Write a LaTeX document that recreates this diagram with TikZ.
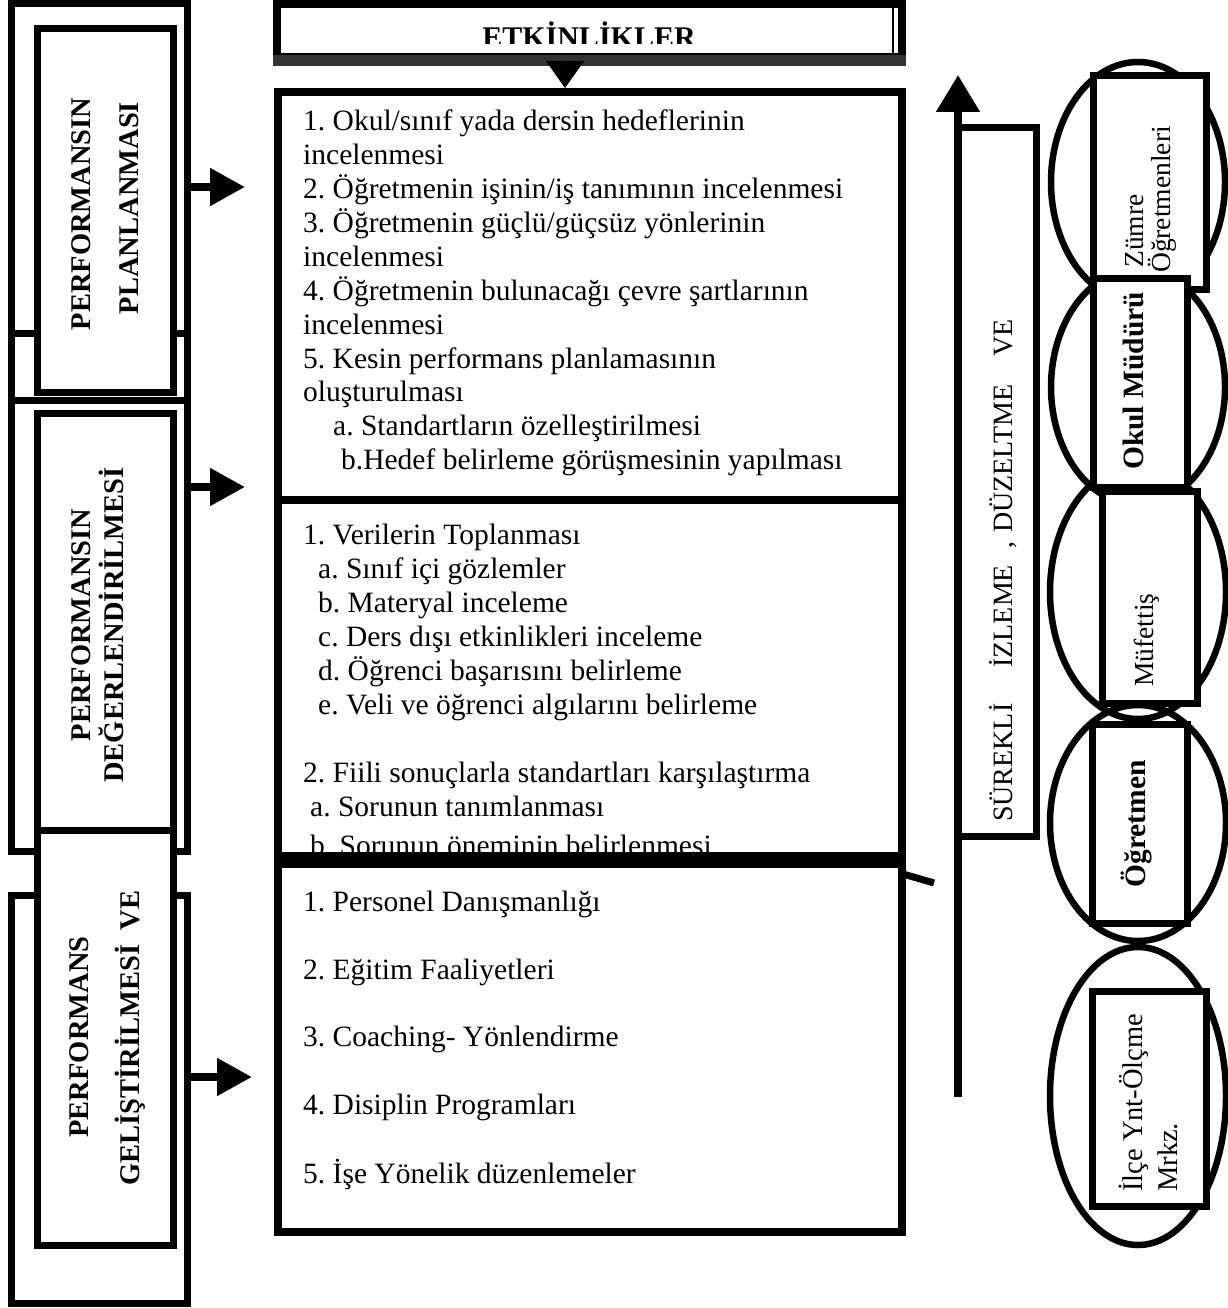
\documentclass[tikz,border=0pt]{standalone}
\usepackage{fontspec}
\setmainfont{Liberation Serif}
\frenchspacing
\usetikzlibrary{fit,shapes.geometric,arrows.meta}
\begin{document}
\begin{tikzpicture}[x=1pt,y=-1pt,
  frame/.style={draw, line width=7pt, fill=white, inner sep=0pt},
  oval/.style={draw, ellipse, line width=6.5pt, inner sep=0pt},
  sideLbl/.style={rotate=90, anchor=base, inner sep=0pt, font=\bfseries\fontsize{28.5}{30}\selectfont},
  item/.style={anchor=base west, inner sep=0pt, font=\fontsize{29.5}{34}\selectfont},
  roleR/.style={rotate=90, inner sep=0pt, font=\fontsize{27.5}{28}\selectfont},
  roleB/.style={rotate=90, inner sep=0pt, font=\bfseries\fontsize{29.5}{30}\selectfont},
  bigArrow/.style={line width=8pt, -{Triangle[length=35pt,width=36pt]}},
]
\useasboundingbox (0,0) rectangle (1227,1308);
\fill[white] (0,0) rectangle (1227,1308);

% helper coordinates
\coordinate (y187) at (0,187);
\coordinate (y333) at (0,333);
\coordinate (y487) at (0,487);
\coordinate (y500) at (0,500);
\coordinate (y860) at (0,860);
\coordinate (y1077) at (0,1077);
\coordinate (a1) at (245,187);
\coordinate (a2) at (245,487);
\coordinate (a3) at (252,1077);
\coordinate (tx) at (565,0);
\coordinate (upB) at (958,1097);
\coordinate (upT) at (958,75);
\coordinate (stubA) at (903,874);
\coordinate (stubB) at (934,883);

% ---------- left column ----------
\node[frame, fit={(11.5,3.5) (187.5,400)}] (o1) {};
\draw[line width=7pt] (o1.west |- y333) -- (o1.east |- y333);
\node[frame, fit={(37.5,29) (173.5,392)}] (i1) {};
\node[frame, fit={(11.5,400) (187.5,851)}] (o2) {};
\node[frame, fit={(11.5,895) (187.5,1303)}] (o3) {};
\node[frame, fit={(37.5,413) (173.5,830)}] (i2) {};
\node[frame, fit={(37.5,830) (173.5,1245)}] (i3) {};

\node[sideLbl] (l1a) at (90,214) {PERFORMANSIN};
\node[sideLbl] (l1b) at (138,208) {PLANLANMASI};
\node[sideLbl] (l2a) at (90,625) {PERFORMANSIN};
\node[sideLbl] (l2b) at (123,625) {DEĞERLENDİRİLMESİ};
\node[sideLbl] (l3a) at (88,1037) {PERFORMANS};
\node[sideLbl] (l3b) at (139,1038) {GELİŞTİRİLMESİ\ \ VE};

\draw[bigArrow] (o1.east |- y187) -- (a1);
\draw[bigArrow] (o2.east |- y487) -- (a2);
\draw[bigArrow] (o3.east |- y1077) -- (a3);

% ---------- middle column ----------
\node[frame, line width=8pt, fit={(278,92) (902,1232)}] (main) {};
\node[frame, line width=8pt, fit={(277,4) (902,57)}] (hdr) {};
\begin{scope}
  \clip (270,0) rectangle (910,44);
  \node[font=\bfseries\fontsize{30}{30}\selectfont, anchor=base, inner sep=0pt] (hdrT) at (589,48) {ETKİNLİKLER};
\end{scope}
\draw[line width=11pt, black!80] (hdr.south west) -- (hdr.south east);
\draw[line width=1.5pt] (893,8) -- (893,55);
\draw[line width=0.5pt, -{Triangle[length=27pt,width=38pt]}] (hdr.south -| tx) -- (main.north -| tx);

\draw[line width=8pt] (main.west |- y500) -- (main.east |- y500);

% section 1
\node[item] (s1a) at (303,131) {1. Okul/sınıf yada dersin hedeflerinin};
\node[item] (s1b) at (303,165) {incelenmesi};
\node[item] (s1c) at (303,199) {2. Öğretmenin işinin/iş tanımının incelenmesi};
\node[item] (s1d) at (303,232) {3. Öğretmenin güçlü/güçsüz yönlerinin};
\node[item] (s1e) at (303,266) {incelenmesi};
\node[item] (s1f) at (303,300) {4. Öğretmenin bulunacağı çevre şartlarının};
\node[item] (s1g) at (303,334) {incelenmesi};
\node[item] (s1h) at (303,368) {5. Kesin performans planlamasının};
\node[item] (s1i) at (303,401) {oluşturulması};
\node[item] (s1j) at (333,435) {a. Standartların özelleştirilmesi};
\node[item] (s1k) at (341,469) {b.Hedef belirleme görüşmesinin yapılması};

% section 2
\node[item] (s2a) at (303,544) {1. Verilerin Toplanması};
\node[item] (s2b) at (318,578) {a. Sınıf içi gözlemler};
\node[item] (s2c) at (318,612) {b. Materyal inceleme};
\node[item] (s2d) at (318,646) {c. Ders dışı etkinlikleri inceleme};
\node[item] (s2e) at (318,680) {d. Öğrenci başarısını belirleme};
\node[item] (s2f) at (318,714) {e. Veli ve öğrenci algılarını belirleme};
\node[item] (s2g) at (303,782) {2. Fiili sonuçlarla standartları karşılaştırma};
\node[item] (s2h) at (310,816) {a. Sorunun tanımlanması};
\node[item] (s2i) at (310,855) {b. Sorunun öneminin belirlenmesi};

\draw[line width=16pt] (main.west |- y860) -- (main.east |- y860);
\draw[line width=7pt] (stubA) -- (stubB);

% section 3
\node[item] (s3a) at (303,911) {1. Personel Danışmanlığı};
\node[item] (s3b) at (303,979) {2. Eğitim Faaliyetleri};
\node[item] (s3c) at (303,1046) {3. Coaching- Yönlendirme};
\node[item] (s3d) at (303,1114) {4. Disiplin Programları};
\node[item] (s3e) at (303,1183) {5. İşe Yönelik düzenlemeler};

% ---------- monitoring arrow ----------
\node[frame, fit={(958,128) (1036,836)}] (sbox) {};
\draw[line width=8pt, -{Triangle[length=37pt,width=42pt]}] (upB) -- (upT);
\node[rotate=90, anchor=base west, inner sep=0pt, font=\fontsize{28}{28}\selectfont] (sT) at (1012,822)
  {SÜREKLİ\hspace{36pt}İZLEME\hspace{16pt},\hspace{9pt}DÜZELTME\hspace{28pt}VE};

% ---------- right column ----------
\node[oval, minimum width=174pt, minimum height=240pt] (e1) at (1138,182) {};
\node[oval, minimum width=174pt, minimum height=236pt] (e2) at (1138,387) {};
\node[oval, minimum width=176pt, minimum height=254pt] (e3) at (1138,592) {};
\node[oval, minimum width=176pt, minimum height=236pt] (e4) at (1138,823) {};
\node[oval, minimum width=176pt, minimum height=298pt] (e5) at (1138,1096) {};

\node[frame, fit={(1093,76) (1206,289)}] (r1) {};
\node[frame, fit={(1093,278) (1187,487)}] (r2) {};
\node[frame, fit={(1102,491) (1197,703)}] (r3) {};
\node[frame, fit={(1092,724) (1187,923)}] (r4) {};
\node[frame, fit={(1092,991) (1206,1206)}] (r5) {};

\node[roleR, anchor=base west] (z1) at (1143,268) {Zümre};
\node[roleR, anchor=base west] (z2) at (1170,273) {Öğretmenleri};
\node[roleB, anchor=base] (om) at (1143,381) {Okul Müdürü};
\node[roleR, anchor=base] (mf) at (1153,640) {Müfettiş};
\node[roleB, anchor=base] (og) at (1145,824) {Öğretmen};
\node[roleR, anchor=base west, font=\fontsize{28.5}{29}\selectfont] (il1) at (1142,1192) {İlçe Ynt-Ölçme};
\node[roleR, anchor=base west, font=\fontsize{28.5}{29}\selectfont] (il2) at (1177,1192) {Mrkz.};
\end{tikzpicture}
\end{document}
